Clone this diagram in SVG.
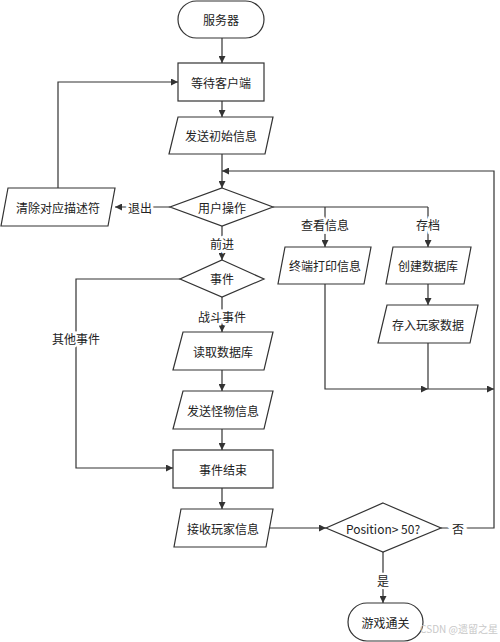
<svg xmlns="http://www.w3.org/2000/svg" width="500" height="642" viewBox="0 0 500 642">
<defs>
<marker id="ah" viewBox="0 0 10 10" refX="10" refY="5" markerWidth="7" markerHeight="7" markerUnits="userSpaceOnUse" orient="auto">
<path d="M0,0 L10,5 L0,10 Z" fill="#333"/>
</marker>
<style>
.s{fill:#fff;stroke:#333;stroke-width:1.2}
.t{font-family:"Noto Sans CJK SC","Noto Sans",sans-serif;font-size:12px;fill:#222;text-anchor:middle;dominant-baseline:central}
.l{font-family:"Noto Sans CJK SC","Noto Sans",sans-serif;font-size:12px;fill:#222;text-anchor:middle;dominant-baseline:central;stroke:#fff;stroke-width:5;paint-order:stroke}
.c{fill:none;stroke:#333;stroke-width:1.2}
.a{marker-end:url(#ah)}
</style>
</defs>
<rect width="500" height="642" fill="#fff"/>
<g id="connectors">
<path class="c a" d="M222,38 V63"/>
<path class="c a" d="M222,101 V117"/>
<path class="c a" d="M222,154 V188"/>
<path class="c a" d="M170,207 H115"/>
<path class="c a" d="M58,188 V82 H178"/>
<path class="c" d="M273,207 H428"/>
<path class="c a" d="M325,207 V247"/>
<path class="c a" d="M428,207 V247"/>
<path class="c a" d="M428,284 V305"/>
<path class="c a" d="M325,284 V389 H428"/>
<path class="c" d="M428,343 V389"/>
<path class="c a" d="M428,389 H494"/>
<path class="c a" d="M494,389 V171 H222"/>
<path class="c" d="M441,528 H494 V389"/>
<path class="c a" d="M222,226 V260"/>
<path class="c a" d="M222,297 V332"/>
<path class="c a" d="M180,279 H76 V468 H173"/>
<path class="c a" d="M222,370 V391"/>
<path class="c a" d="M222,429 V450"/>
<path class="c a" d="M222,488 V509"/>
<path class="c a" d="M269,528 H326"/>
<path class="c a" d="M383,552 V603"/>
<text class="l" x="140" y="207">退出</text>
<text class="l" x="325" y="224">查看信息</text>
<text class="l" x="428" y="224">存档</text>
<text class="l" x="222" y="243">前进</text>
<text class="l" x="222" y="316">战斗事件</text>
<text class="l" x="76" y="338">其他事件</text>
<text class="l" x="458" y="528">否</text>
<text class="l" x="383" y="580">是</text>
</g>
<g id="server">
<rect class="s" x="178" y="1" width="86" height="37" rx="18.5"/>
<text class="t" x="221" y="19.5">服务器</text>
</g>
<g id="wait">
<rect class="s" x="178" y="63" width="86" height="38"/>
<text class="t" x="221" y="82">等待客户端</text>
</g>
<g id="sendInit">
<path class="s" d="M178,117 H273 L265,154 H169 Z"/>
<text class="t" x="221" y="135.5">发送初始信息</text>
</g>
<g id="userOp">
<path class="s" d="M222,188 L273,207 L222,226 L170,207 Z"/>
<text class="t" x="222" y="207">用户操作</text>
</g>
<g id="clear">
<path class="s" d="M8,188 H115 L108,226 H1 Z"/>
<text class="t" x="58" y="207">清除对应描述符</text>
</g>
<g id="print">
<path class="s" d="M285,247 H371 L364,284 H278 Z"/>
<text class="t" x="325" y="265.5">终端打印信息</text>
</g>
<g id="createDb">
<path class="s" d="M393,247 H471 L464,284 H386 Z"/>
<text class="t" x="428" y="265.5">创建数据库</text>
</g>
<g id="store">
<path class="s" d="M387,305 H478 L470,343 H378 Z"/>
<text class="t" x="428" y="324">存入玩家数据</text>
</g>
<g id="event">
<path class="s" d="M222,260 L264,279 L222,297 L180,279 Z"/>
<text class="t" x="222" y="278.5">事件</text>
</g>
<g id="readDb">
<path class="s" d="M183,332 H273 L264,370 H173 Z"/>
<text class="t" x="223" y="351">读取数据库</text>
</g>
<g id="sendMonster">
<path class="s" d="M183,391 H273 L264,429 H173 Z"/>
<text class="t" x="223" y="410">发送怪物信息</text>
</g>
<g id="eventEnd">
<rect class="s" x="173" y="450" width="100" height="38"/>
<text class="t" x="223" y="469">事件结束</text>
</g>
<g id="recv">
<path class="s" d="M181,509 H273 L266,547 H174 Z"/>
<text class="t" x="223" y="528">接收玩家信息</text>
</g>
<g id="position">
<path class="s" d="M383,503 L441,528 L383,552 L326,528 Z"/>
<text class="t" x="383" y="528">Position&gt; 50?</text>
</g>
<g id="win">
<rect class="s" x="348" y="603" width="75" height="38" rx="19"/>
<text class="t" x="385.5" y="622">游戏通关</text>
</g>
<text x="498" y="633" font-family="'Noto Sans CJK SC','Noto Sans',sans-serif" font-size="10" fill="#c8c8c8" text-anchor="end">CSDN @遗留之星</text>
</svg>
